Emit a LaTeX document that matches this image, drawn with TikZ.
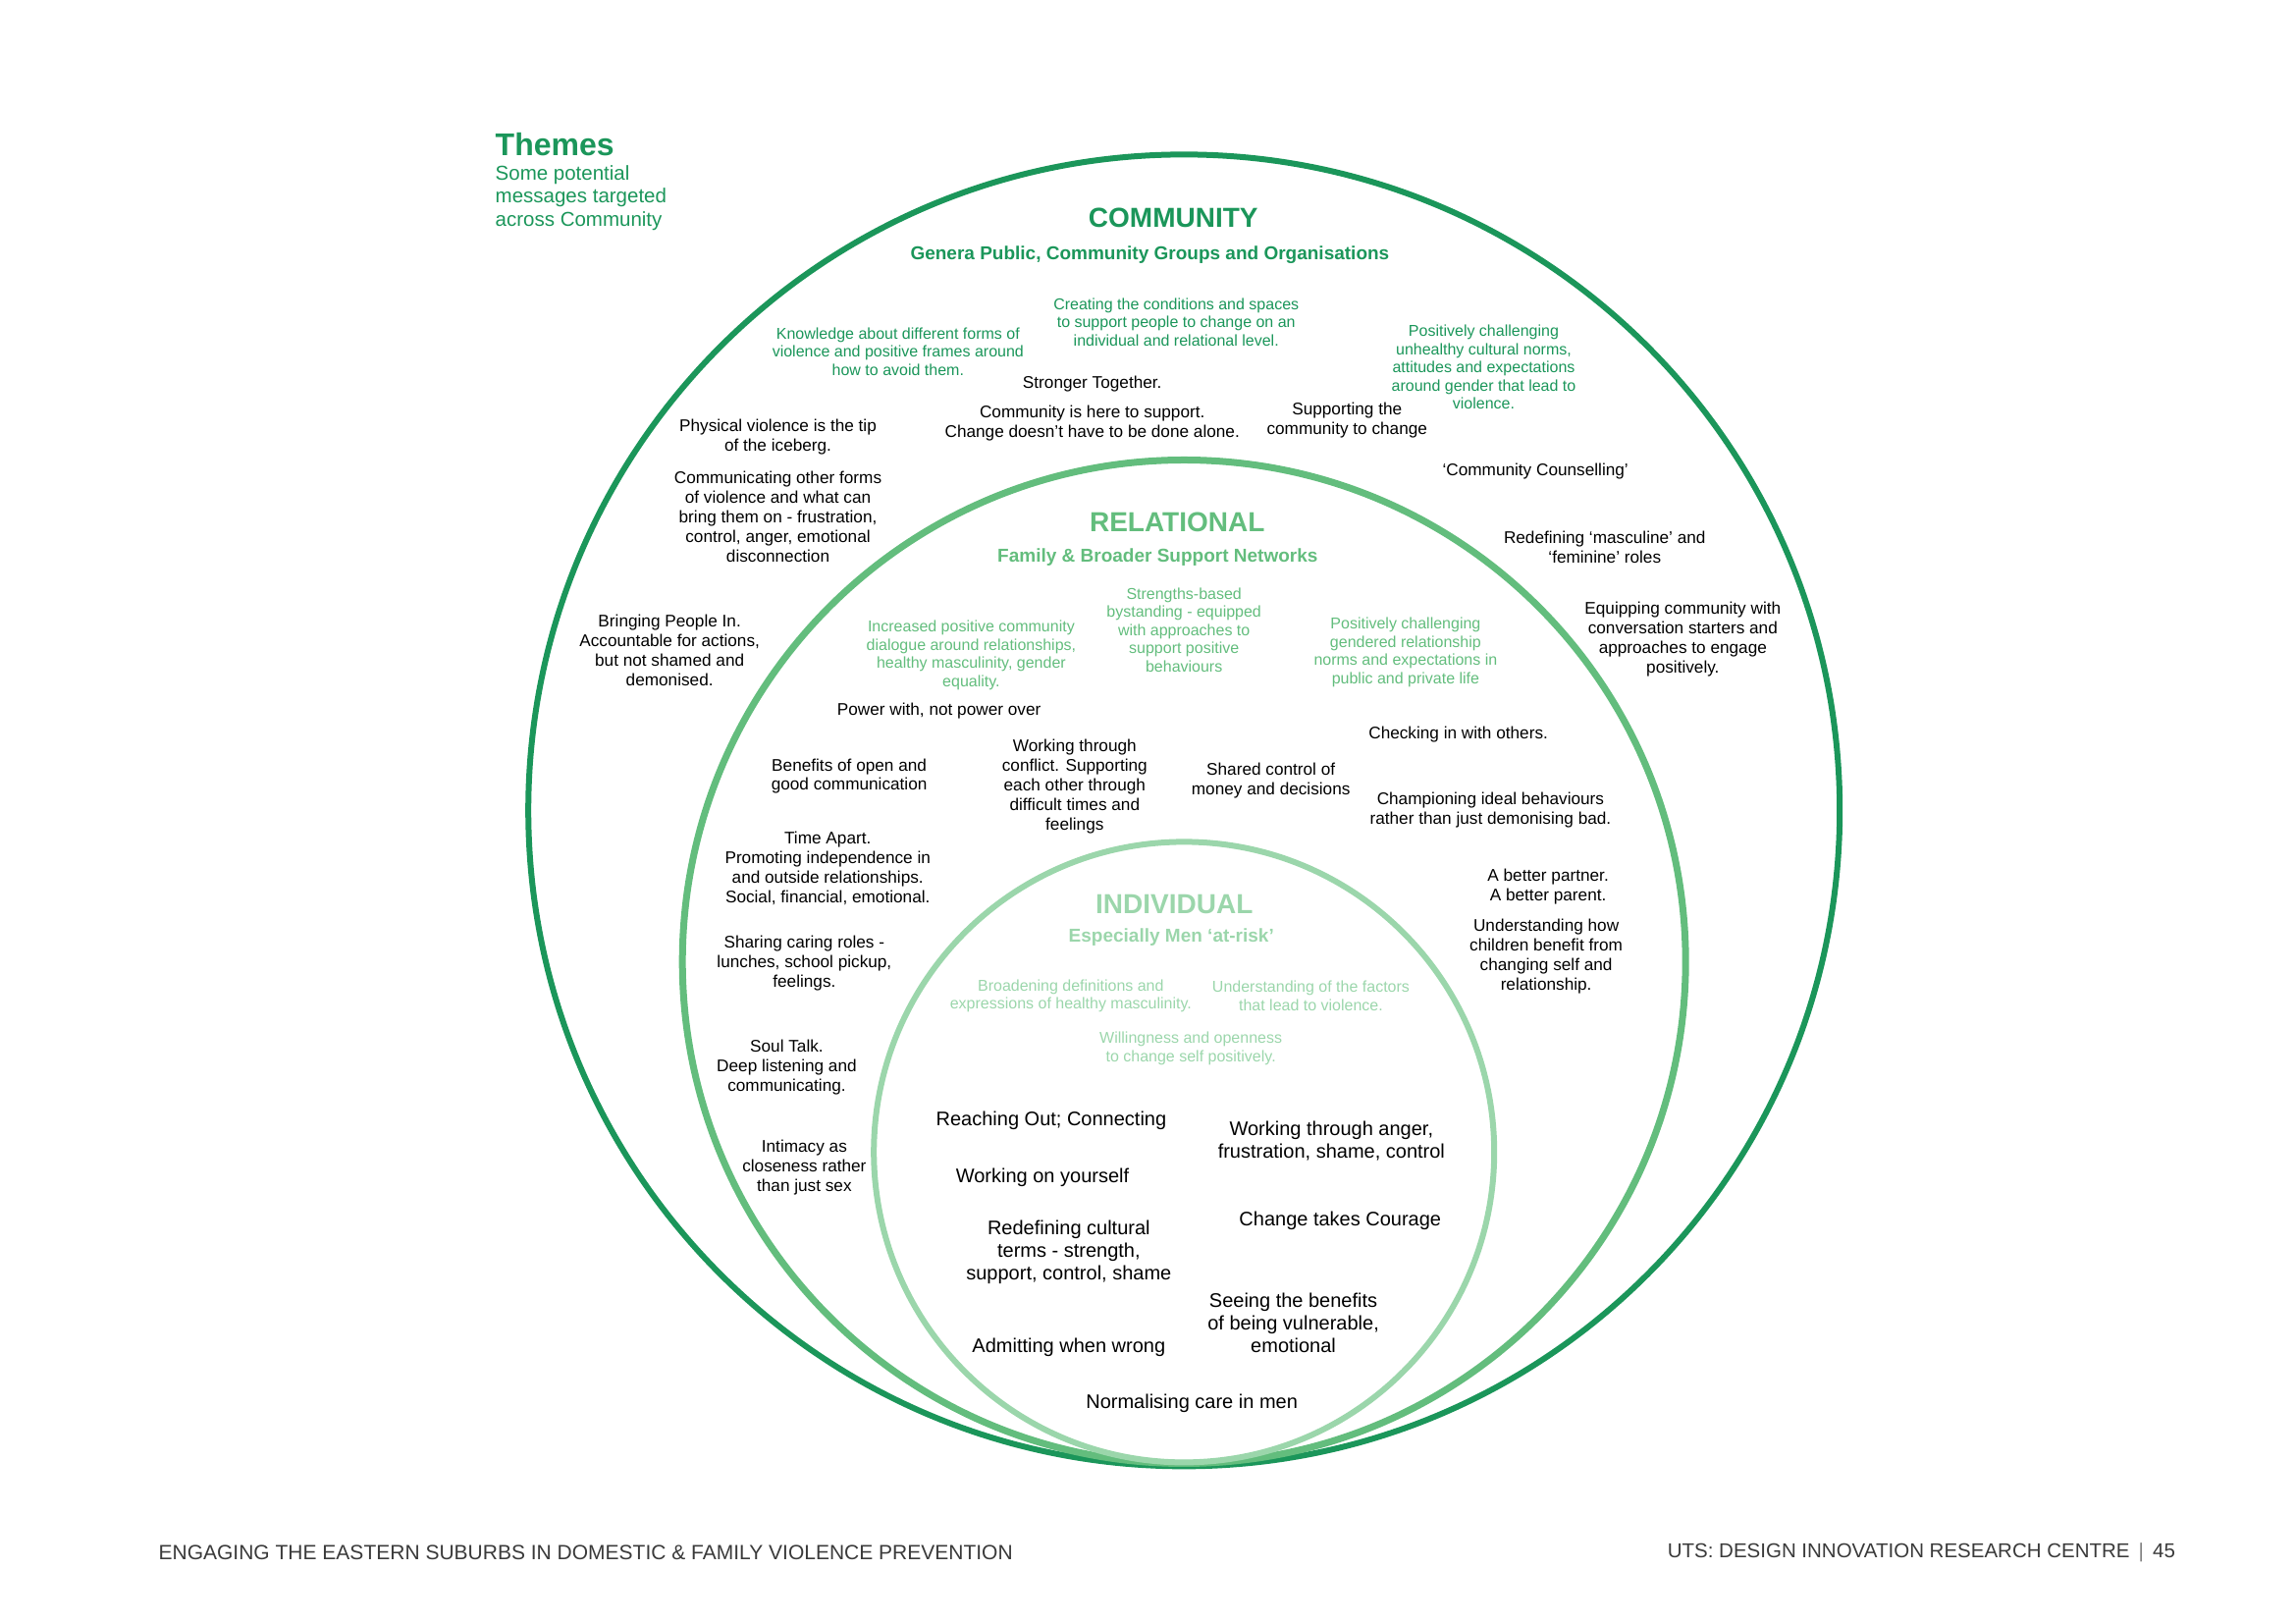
\documentclass[tikz,border=0pt]{standalone}
\usepackage{fontspec}
\setmainfont{Liberation Sans}
\definecolor{commgreen}{HTML}{1B965A}
\definecolor{relgreen}{HTML}{63BD7D}
\definecolor{indgreen}{HTML}{9BD6AB}
\definecolor{footgray}{HTML}{3A3A3A}
\begin{document}
\begin{tikzpicture}[x=0.9944pt, y=-0.9944pt, ring/.style={circle,draw,inner sep=0pt},
  big label/.style={font=\fontsize{28}{31}\selectfont\bfseries},
  sub label/.style={font=\fontsize{19}{22}\selectfont\bfseries},
  note/.style={align=center,font=\fontsize{16}{18.5}\selectfont},
  msg/.style={align=center,font=\fontsize{17.2}{20}\selectfont},
  core msg/.style={align=center,font=\fontsize{20}{23}\selectfont}]
\useasboundingbox (0,0) rectangle (2352.2,1663.3);
% rings
\node [ring,draw=commgreen,line width=6pt,minimum size=1336pt](c1) at (1213,830) {};
\node [ring,draw=relgreen,line width=7pt,minimum size=1022pt](c2) at (1213,985) {};
\node [ring,draw=indgreen,line width=6pt,minimum size=632pt](c3) at (1213,1180) {};
% heading
\node [anchor=west,text=commgreen,font=\fontsize{32}{34}\selectfont\bfseries](h1) at (504,148) {Themes};
\node [anchor=north west,align=left,text=commgreen,font=\fontsize{20.5}{23.5}\selectfont](h2) at (504,166) {Some potential\\messages targeted\\across Community};
% community
\node [big label,text=commgreen](l1) at (1202,223) {COMMUNITY};
\node [sub label,text=commgreen](s1) at (1178,261) {Genera Public, Community Groups and Organisations};
\begin{scope}[every node/.style={note,text=commgreen}]
\node (n1) at (920,360) {Knowledge about different forms of\\violence and positive frames around\\how to avoid them.};
\node (n2) at (1205,330) {Creating the conditions and spaces\\to support people to change on an\\individual and relational level.};
\node (n3) at (1520,376) {Positively challenging\\unhealthy cultural norms,\\attitudes and expectations\\around gender that lead to\\violence.};
\end{scope}
\begin{scope}[every node/.style={msg}]
\node (m1) at (1119,393) {Stronger Together.};
\node (m2) at (1119,433) {Community is here to support.\\Change doesn’t have to be done alone.};
\node (m3) at (1380,430) {Supporting the\\community to change};
\node (m4) at (797,448) {Physical violence is the tip\\of the iceberg.};
\node (m5) at (797,529) {Communicating other forms\\of violence and what can\\bring them on - frustration,\\control, anger, emotional\\disconnection};
\node (m6) at (1573,483) {‘Community Counselling’};
\node (m7) at (1644,560) {Redefining ‘masculine’ and\\‘feminine’ roles};
\node (m8) at (1724,655) {Equipping community with\\conversation starters and\\approaches to engage\\positively.};
\node (m9) at (686,666) {Bringing People In.\\Accountable for actions,\\but not shamed and\\demonised.};
\end{scope}
% relational
\node [big label,text=relgreen](l2) at (1206,535) {RELATIONAL};
\node [sub label,text=relgreen](s2) at (1186,571) {Family \& Broader Support Networks};
\begin{scope}[every node/.style={note,text=relgreen}]
\node (n4) at (995,671) {Increased positive community\\dialogue around relationships,\\healthy masculinity, gender\\equality.};
\node (n5) at (1213,645) {Strengths-based\\bystanding - equipped\\with approaches to\\support positive\\behaviours};
\node (n6) at (1440,668) {Positively challenging\\gendered relationship\\norms and expectations in\\public and private life};
\end{scope}
\begin{scope}[every node/.style={msg}]
\node (m10) at (962,728) {Power with, not power over};
\node (m11) at (870,795) {Benefits of open and\\good communication};
\node (m12) at (1101,806) {Working through\\conflict. Supporting\\each other through\\difficult times and\\feelings};
\node (m13) at (1302,800) {Shared control of\\money and decisions};
\node (m14) at (1494,752) {Checking in with others.};
\node (m15) at (1527,830) {Championing ideal behaviours\\rather than just demonising bad.};
\node (m16) at (848,889) {Time Apart.\\Promoting independence in\\and outside relationships.\\Social, financial, emotional.};
\node (m17) at (1586,908) {A better partner.\\A better parent.};
\node (m18) at (1584,980) {Understanding how\\children benefit from\\changing self and\\relationship.};
\node (m19) at (824,987) {Sharing caring roles -\\lunches, school pickup,\\feelings.};
\node (m20) at (806,1093) {Soul Talk.\\Deep listening and\\communicating.};
\node (m21) at (824,1196) {Intimacy as\\closeness rather\\than just sex};
\end{scope}
% individual
\node [big label,text=indgreen](l3) at (1203,926) {INDIVIDUAL};
\node [sub label,text=indgreen](s3) at (1200,960) {Especially Men ‘at-risk’};
\begin{scope}[every node/.style={note,text=indgreen}]
\node (n7) at (1097,1020) {Broadening definitions and\\expressions of healthy masculinity.};
\node (n8) at (1343,1020) {Understanding of the factors\\that lead to violence.};
\node (n9) at (1220,1074) {Willingness and openness\\to change self positively.};
\end{scope}
\begin{scope}[every node/.style={core msg}]
\node (k1) at (1077,1148) {Reaching Out; Connecting};
\node (k2) at (1364,1169) {Working through anger,\\frustration, shame, control};
\node (k3) at (1068,1206) {Working on yourself};
\node (k4) at (1373,1250) {Change takes Courage};
\node (k5) at (1095,1283) {Redefining cultural\\terms - strength,\\support, control, shame};
\node (k6) at (1325,1355) {Seeing the benefits\\of being vulnerable,\\emotional};
\node (k7) at (1095,1380) {Admitting when wrong};
\node (k8) at (1221,1437) {Normalising care in men};
\end{scope}
% footer
\node [anchor=west,text=footgray,font=\fontsize{21}{24}\selectfont](f1) at (159,1590) {ENGAGING THE EASTERN SUBURBS IN DOMESTIC \& FAMILY VIOLENCE PREVENTION};
\node [anchor=east,text=footgray,font=\fontsize{20.5}{24}\selectfont](f2) at (2232,1590) {UTS: DESIGN INNOVATION RESEARCH CENTRE \textcolor{gray}{\,|\,} 45};
\end{tikzpicture}
\end{document}
